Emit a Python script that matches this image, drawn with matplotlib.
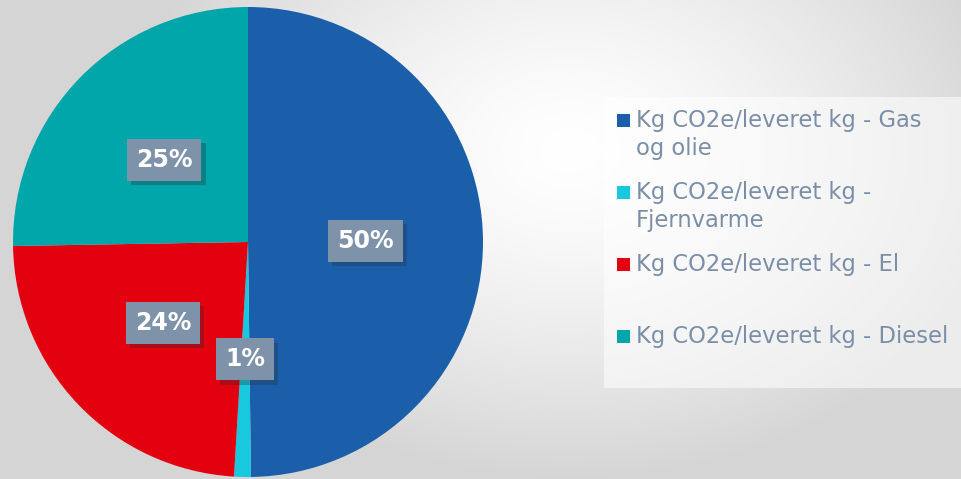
import matplotlib
matplotlib.use("Agg")
import matplotlib.pyplot as plt
from matplotlib.patches import Rectangle
import matplotlib.patheffects as pe
import numpy as np

# data
categories = ['Kg CO2e/leveret kg - Gas og olie', 'Kg CO2e/leveret kg - Fjernvarme',
              'Kg CO2e/leveret kg - El', 'Kg CO2e/leveret kg - Diesel']
legend_labels = ['Kg CO2e/leveret kg - Gas\nog olie', 'Kg CO2e/leveret kg -\nFjernvarme',
                 'Kg CO2e/leveret kg - El', 'Kg CO2e/leveret kg - Diesel']
shares = [49.8, 1.15, 23.78, 25.27]
colors = ['#1b5faa', '#17c8de', '#e3000f', '#00a6a9']

W, H = 961, 479
fig = plt.figure(figsize=(W / 100, H / 100), dpi=100)

# background: soft radial grey gradient
bg = fig.add_axes([0, 0, 1, 1])
yy, xx = np.mgrid[0:H, 0:W]
d = np.sqrt(((xx - 570) / 450.0) ** 2 + ((yy - 150) / 330.0) ** 2)
shade = (255 - 42 * np.clip(d, 0, 1) ** 1.4) / 255.0
bg.imshow(np.dstack([shade, shade, shade]), extent=[0, W, H, 0], aspect='auto')
bg.set_xlim(0, W)
bg.set_ylim(H, 0)
bg.axis('off')

# pie (center ~ (248, 242), radius ~235 px)
cx, cy, r = 248, 242, 235
ax = fig.add_axes([(cx - r) / W, (H - cy - r) / H, 2 * r / W, 2 * r / H])
wedges, texts, autotexts = ax.pie(shares, colors=colors, startangle=90, counterclock=False,
                                  autopct='%.0f%%', pctdistance=0.5,
                                  wedgeprops=dict(linewidth=0))
ax.set_aspect('equal')
ax.set_xlim(-1, 1)
ax.set_ylim(-1, 1)

for t in autotexts:
    t.set_color('white')
    t.set_fontsize(17)
    t.set_fontweight('bold')
    t.set_family('DejaVu Sans')
    t.set_bbox(dict(boxstyle='square,pad=0.38', fc='#7e92a9', ec='none'))
    t.get_bbox_patch().set_path_effects([pe.SimplePatchShadow(offset=(3, -3), alpha=0.3),
                                         pe.Normal()])

# legend box drawn by hand (equal height per entry, like the original)
bg.add_patch(Rectangle((604, 97), W - 604, 291, fc='white', ec='none', alpha=0.55))
y0, step = 120, 72
for i, (lab, col) in enumerate(zip(legend_labels, colors)):
    y = y0 + i * step
    bg.add_patch(Rectangle((617, y - 6.5), 13, 13, fc=col, ec='none'))
    bg.text(636, y - 11, lab, color='#7a8fa7', fontsize=16.3, family='DejaVu Sans',
            va='top', ha='left', linespacing=1.3)

fig.savefig('out.png', dpi=100)
